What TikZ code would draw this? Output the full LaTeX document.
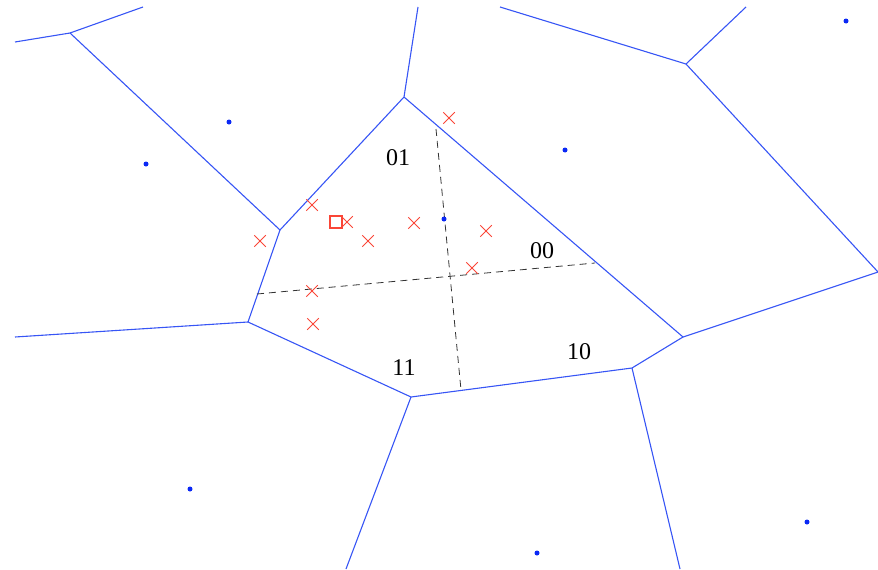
\documentclass[tikz,border=0pt]{standalone}
\usepackage{fontspec}
\setmainfont{Liberation Serif}
\usetikzlibrary{shapes.misc}
\definecolor{edgeblue}{RGB}{55,85,245}
\definecolor{siteblue}{RGB}{10,40,245}
\definecolor{xred}{RGB}{250,70,55}
\begin{document}
\begin{tikzpicture}[x=1pt,y=-1pt,
  vedge/.style={draw=edgeblue,line width=1.1pt},
  split/.style={draw=black!80,line width=0.8pt,dash pattern=on 7pt off 5pt},
  site/.style={circle,fill=siteblue,inner sep=0pt,minimum size=5pt},
  sample/.style={draw=xred,line width=1pt,cross out,inner sep=0pt,minimum size=10.5pt},
  query/.style={draw=xred,line width=1.7pt,rectangle,inner sep=0pt,minimum size=12.5pt},
  lab/.style={font=\fontsize{24}{26}\selectfont,inner sep=0pt}]
\useasboundingbox (0,0) rectangle (878,570);
% Voronoi vertices
\coordinate (A) at (70,33);
\coordinate (B) at (280,230);
\coordinate (C) at (404,97);
\coordinate (D) at (683,337);
\coordinate (E) at (686,64);
\coordinate (F) at (632,368);
\coordinate (G) at (411,397);
\coordinate (H) at (248,322);
\coordinate (R) at (878,272);
% free ends
\coordinate (e1) at (15,42);
\coordinate (e2) at (143,7);
\coordinate (e3) at (418,7);
\coordinate (e4) at (500,7);
\coordinate (e5) at (746,7);
\coordinate (e6) at (15,337);
\coordinate (e7) at (346,569);
\coordinate (e8) at (680,569);
% edges
\draw[vedge] (e1) -- (A) -- (e2);
\draw[vedge] (A) -- (B);
\draw[vedge] (B) -- (C) -- (e3);
\draw[vedge] (C) -- (D);
\draw[vedge] (e4) -- (E) -- (e5);
\draw[vedge] (E) -- (R) -- (D);
\draw[vedge] (D) -- (F) -- (G) -- (H) -- (B);
\draw[vedge] (e6) -- (H);
\draw[vedge] (G) -- (e7);
\draw[vedge] (F) -- (e8);
% dashed split
\coordinate (v1) at (436,129);
\coordinate (v2) at (461,390);
\coordinate (h1) at (257,294);
\coordinate (h2) at (595,263);
\draw[split] (v1) -- (v2);
\draw[split] (h1) -- (h2);
% sites
\node[site] (s1) at (229,122) {};
\node[site] (s2) at (146,164) {};
\node[site] (s3) at (565,150) {};
\node[site] (s4) at (846,21) {};
\node[site] (s5) at (444,219) {};
\node[site] (s6) at (190,489) {};
\node[site] (s7) at (537,553) {};
\node[site] (s8) at (807,522) {};
% samples
\node[sample] (x1) at (449,118) {};
\node[sample] (x2) at (312,205) {};
\node[sample] (x3) at (347,222) {};
\node[sample] (x4) at (414,223) {};
\node[sample] (x5) at (368,241) {};
\node[sample] (x6) at (260,241) {};
\node[sample] (x7) at (486,231) {};
\node[sample] (x8) at (472,268) {};
\node[sample] (x9) at (312,291) {};
\node[sample] (x10) at (313,324) {};
\node[query] (q) at (336,222) {};
% labels
\node[lab] (l01) at (398,158) {01};
\node[lab] (l00) at (542,251) {00};
\node[lab] (l10) at (579,352) {10};
\node[lab] (l11) at (404,368) {11};
\end{tikzpicture}
\end{document}
